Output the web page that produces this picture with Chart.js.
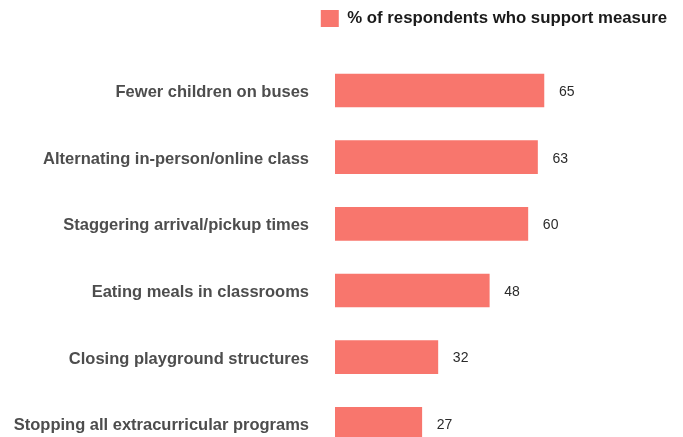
<!DOCTYPE html>
<html>
<head>
<meta charset="utf-8">
<script src="https://cdn.jsdelivr.net/npm/chart.js@4"></script>
<style>
  html, body { margin: 0; padding: 0; background: #fff; overflow: hidden; }
  #wrap { width: 683px; height: 437px; overflow: hidden; }
</style>
</head>
<body>
<div id="wrap"><canvas id="chart" width="683" height="493"></canvas></div>
<script>
const measures = [
  "Fewer children on buses",
  "Alternating in-person/online class",
  "Staggering arrival/pickup times",
  "Eating meals in classrooms",
  "Closing playground structures",
  "Stopping all extracurricular programs",
];
const support = [65, 63, 60, 48, 32, 27];
const seriesLabel = "% of respondents who support measure";

const FONT = "'Liberation Sans', Arial, sans-serif";

// numbers at the end of each bar
const valueLabels = {
  id: "valueLabels",
  afterDatasetsDraw(chart) {
    const ctx = chart.ctx;
    const meta = chart.getDatasetMeta(0);
    ctx.save();
    ctx.font = "14px " + FONT;
    ctx.fillStyle = "#2b2b2b";
    ctx.textBaseline = "middle";
    ctx.textAlign = "left";
    meta.data.forEach((bar, i) => {
      ctx.fillText(String(support[i]), bar.x + 15, bar.y + 1.5);
    });
    ctx.restore();
  },
};

new Chart(document.getElementById("chart"), {
  type: "bar",
  data: {
    labels: measures,
    datasets: [
      {
        label: seriesLabel,
        data: support,
        backgroundColor: "#F8766D",
        borderWidth: 0,
        barThickness: 33,
      },
    ],
  },
  options: {
    indexAxis: "y",
    responsive: false,
    animation: false,
    layout: { padding: { top: 0, right: 6, left: 0, bottom: 0 } },
    plugins: {
      legend: {
        position: "top",
        align: "end",
        labels: {
          boxWidth: 18,
          boxHeight: 17,
          color: "#1a1a1a",
          padding: 10,
          font: { family: FONT, size: 16.8, weight: "bold" },
        },
      },
      // empty spacer between legend and bars
      title: {
        display: true,
        text: "",
        weight: 500,
        padding: { top: 19, bottom: 0 },
        font: { size: 1 },
      },
      tooltip: { enabled: false },
    },
    scales: {
      x: {
        display: false,
        min: 0,
        max: 106.4,
      },
      y: {
        grid: { display: false, drawTicks: false },
        border: { display: false },
        ticks: {
          color: "#4d4d4d",
          padding: 26,
          labelOffset: 2,
          font: { family: FONT, size: 16.5, weight: "bold" },
        },
        afterFit(scale) {
          scale.width = 335;
        },
      },
    },
  },
  plugins: [valueLabels],
});
</script>
</body>
</html>
